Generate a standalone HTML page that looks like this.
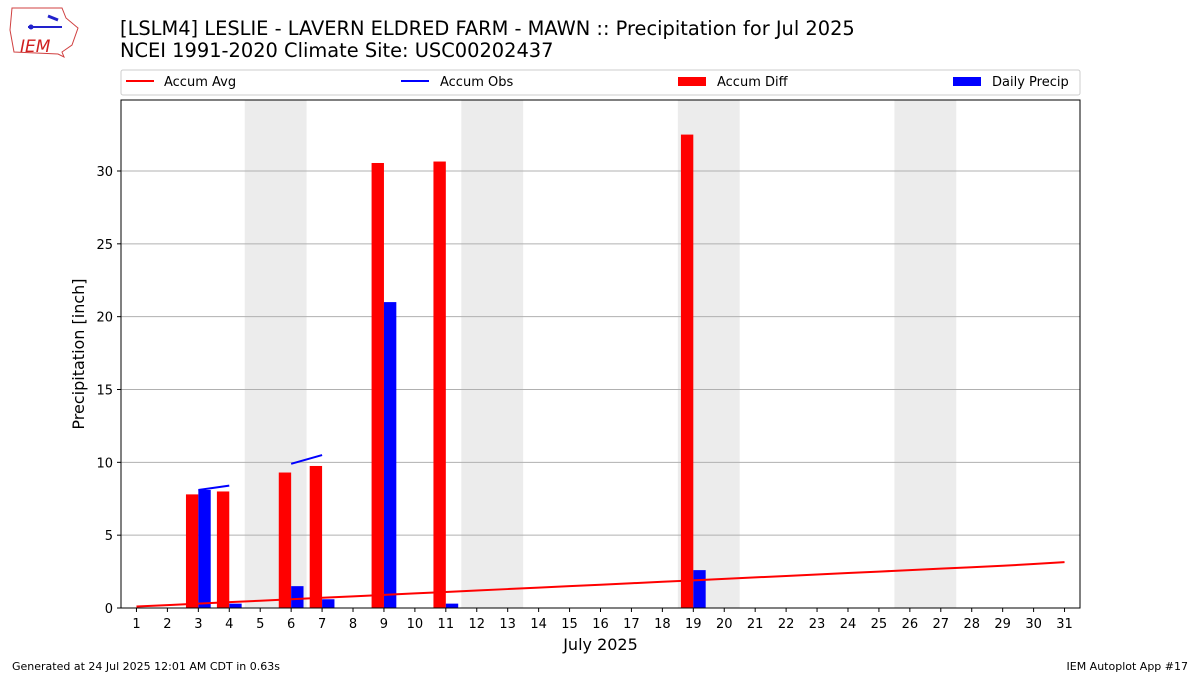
<!DOCTYPE html>
<html><head><meta charset="utf-8">
<style>
body{margin:0;background:#fff;font-family:"Liberation Sans","DejaVu Sans",sans-serif;}
svg text{font-family:"DejaVu Sans","Liberation Sans",sans-serif;}
</style></head>
<body>
<svg id="chart" width="1200" height="675" viewBox="0 0 1200 675" xmlns="http://www.w3.org/2000/svg">
<g>
<path d="M12,8 L62,8 L66,18 L78,28 L72,45 L62,52 L64,57 L58,54 L14,52 L10,30 Z" fill="#fff" stroke="#d04040" stroke-width="1"/>
<line x1="28" y1="27" x2="62" y2="27" stroke="#2222cc" stroke-width="2"/>
<circle cx="31" cy="27" r="2.5" fill="#2222cc"/>
<path d="M48,16 L58,20" stroke="#2222cc" stroke-width="3"/>
<text x="20" y="52" font-size="17" font-style="italic" fill="#d02020" font-family="Liberation Serif,serif">IEM</text>
</g>
<text x="120" y="35" font-size="19.4" fill="#000">[LSLM4] LESLIE - LAVERN ELDRED FARM - MAWN :: Precipitation for Jul 2025</text>
<text x="120" y="57" font-size="19.4" fill="#000">NCEI 1991-2020 Climate Site: USC00202437</text>
<g>
<rect x="121" y="70" width="959" height="25" fill="#fff" stroke="#ccc" rx="2"/>
<line x1="126" y1="81" x2="154" y2="81" stroke="red" stroke-width="2"/>
<text x="164" y="86" font-size="13">Accum Avg</text>
<line x1="401" y1="81" x2="429" y2="81" stroke="blue" stroke-width="2"/>
<text x="440" y="86" font-size="13">Accum Obs</text>
<rect x="678" y="77" width="28" height="9" fill="red"/>
<text x="717" y="86" font-size="13">Accum Diff</text>
<rect x="953" y="77" width="28" height="9" fill="blue"/>
<text x="992" y="86" font-size="13">Daily Precip</text>
</g>
<g id="plot"></g>
<text x="12" y="670" font-size="11">Generated at 24 Jul 2025 12:01 AM CDT in 0.63s</text>
<text x="1188" y="670" font-size="11" text-anchor="end">IEM Autoplot App #17</text>
</svg>
<script>
const days=[];for(let d=1;d<=31;d++)days.push(d);
const weekendStarts=[5,12,19,26];
const diffDays=[3,4,6,7,9,11,19];
const diffVals=[7.8,8.0,9.3,9.75,30.55,30.65,32.5];
const dailyDays=[3,4,6,7,9,11,19];
const dailyVals=[8.1,0.3,1.5,0.6,21.0,0.3,2.6];
const obsSegDays=[[3,4],[6,7]];
const obsSegVals=[[8.1,8.4],[9.9,10.5]];
const avgVals=[0.1,0.2,0.3,0.4,0.5,0.6,0.7,0.8,0.9,1.0,1.1,1.2,1.3,1.4,1.5,1.6,1.7,1.8,1.9,2.0,2.1,2.2,2.3,2.4,2.5,2.6,2.7,2.8,2.9,3.02,3.15];
const yTicks=[0,5,10,15,20,25,30];
const L=121,R=1080,T=100,B=608;
const X=d=>L+(d-0.5)*(R-L)/31;
const Y=v=>B-v*(B-171)/30;
const NS="http://www.w3.org/2000/svg";
const g=document.getElementById('plot');
function mk(t,a){const e=document.createElementNS(NS,t);for(const k in a)e.setAttribute(k,a[k]);g.appendChild(e);return e;}
weekendStarts.forEach(d=>{const e=mk('rect',{x:X(d-0.5),y:T,width:X(d+1.5)-X(d-0.5),height:B-T,fill:'#ececec'});

});
yTicks.forEach(v=>{if(v>0){const l=mk('line',{x1:L,x2:R,y1:Y(v),y2:Y(v),stroke:'#b0b0b0','stroke-width':1});

}
mk('line',{x1:L-4,x2:L,y1:Y(v),y2:Y(v),stroke:'#000'});
const t=mk('text',{x:L-8,y:Y(v)+5,'font-size':13,'text-anchor':'end'});t.textContent=v;

});
const bw=0.4*(R-L)/31;
diffDays.forEach((d,i)=>{const e=mk('rect',{x:X(d)-bw,y:Y(diffVals[i]),width:bw,height:B-Y(diffVals[i]),fill:'red'});

});
dailyDays.forEach((d,i)=>{const e=mk('rect',{x:X(d),y:Y(dailyVals[i]),width:bw,height:B-Y(dailyVals[i]),fill:'blue'});

});
const pl=mk('polyline',{points:days.map((d,i)=>X(d)+','+Y(avgVals[i])).join(' '),fill:'none',stroke:'red','stroke-width':2});


obsSegDays.forEach((s,i)=>{const e=mk('line',{x1:X(s[0]),y1:Y(obsSegVals[i][0]),x2:X(s[1]),y2:Y(obsSegVals[i][1]),stroke:'blue','stroke-width':2});

});
days.forEach(d=>{mk('line',{x1:X(d),x2:X(d),y1:B,y2:B+4,stroke:'#000'});
const t=mk('text',{x:X(d),y:B+20,'font-size':13,'text-anchor':'middle'});t.textContent=d;

});
const fr=mk('rect',{x:L,y:T,width:R-L,height:B-T,fill:'none',stroke:'#000','stroke-width':1});


const xt=mk('text',{x:(L+R)/2,y:650,'font-size':16,'text-anchor':'middle'});xt.textContent='July 2025';


const yt=mk('text',{x:84,y:354,'font-size':16,'text-anchor':'middle',transform:'rotate(-90 84 354)'});yt.textContent='Precipitation [inch]';


</script>
</body></html>
